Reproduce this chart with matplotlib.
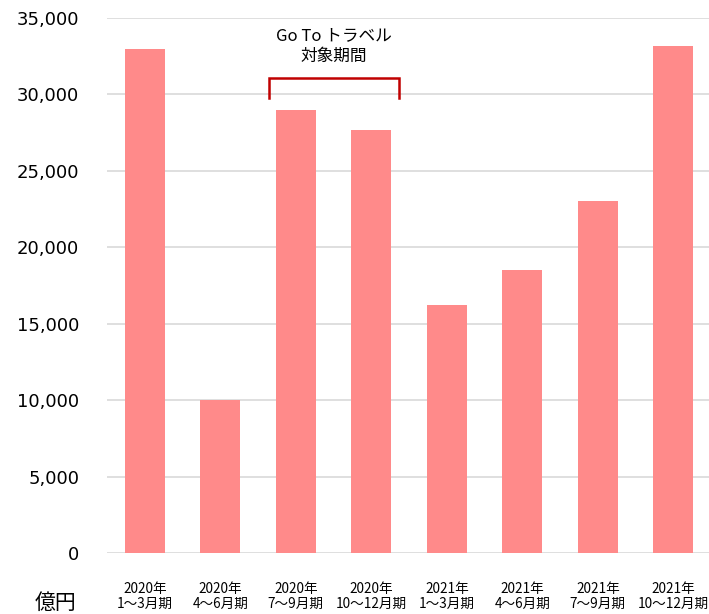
import matplotlib
matplotlib.use("Agg")
import matplotlib.pyplot as plt

categories = ["2020年\n1～3月期", "2020年\n4～6月期", "2020年\n7～9月期", "2020年\n10～12月期",
              "2021年\n1～3月期", "2021年\n4～6月期", "2021年\n7～9月期", "2021年\n10～12月期"]
values = [33000, 10000, 29000, 27700, 16200, 18500, 23000, 33200]
yticks = [0, 5000, 10000, 15000, 20000, 25000, 30000, 35000]
ytick_labels = ["0", "5,000", "10,000", "15,000", "20,000", "25,000", "30,000", "35,000"]

plt.rcParams['font.family'] = ['Noto Sans CJK JP', 'DejaVu Sans']

fig = plt.figure(figsize=(7.09, 6.14), dpi=100)
ax = fig.add_axes([0.151, 0.0993, 0.852, 0.8714])
x = list(range(len(categories)))
ax.bar(x, values, width=0.53, color="#FF8A8A", zorder=3)
ax.set_xlim(-0.5, len(categories) - 0.5)
ax.set_ylim(0, 35000)
ax.set_yticks(yticks)
ax.set_yticklabels(ytick_labels, fontsize=13, family=['DejaVu Sans'])
ax.set_xticks(x)
ax.set_xticklabels(categories, fontsize=9.8, linespacing=1.1)
ax.tick_params(axis='both', length=0, colors='black')
ax.tick_params(axis='y', pad=20)
ax.tick_params(axis='x', pad=21)
ax.yaxis.grid(True, color="#d9d9d9", linewidth=1.2, zorder=0)
for s in ax.spines.values():
    s.set_visible(False)

# bracket
ax.plot([1.64, 1.64, 3.36, 3.36], [29750, 31100, 31100, 29750], color="#C00000", linewidth=1.8, zorder=4,
        solid_joinstyle='miter', clip_on=False)
ax.text(2.5, 33150, "Go To トラベル\n対象期間", ha='center', va='center', fontsize=12, linespacing=1.3)

fig.text(0.079, 0.018, "億円", fontsize=15, ha='center', va='center')

fig.savefig("out.png", dpi=100)
